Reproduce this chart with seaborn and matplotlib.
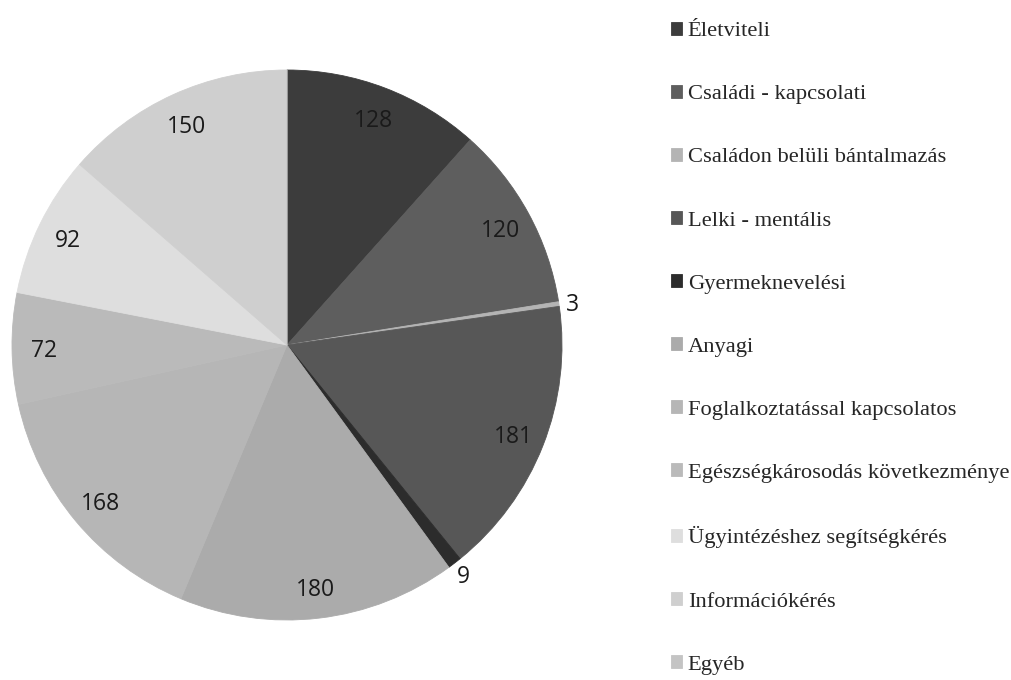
import matplotlib
matplotlib.use("Agg")
import matplotlib.pyplot as plt
from matplotlib.font_manager import FontProperties
import numpy as np
import seaborn as sns

# Problem categories and number of cases
categories = [
    "Életviteli",
    "Családi - kapcsolati",
    "Családon belüli bántalmazás",
    "Lelki - mentális",
    "Gyermeknevelési",
    "Anyagi",
    "Foglalkoztatással kapcsolatos",
    "Egészségkárosodás következménye",
    "Ügyintézéshez segítségkérés",
    "Információkérés",
    "Egyéb",
]
values = [128, 120, 3, 181, 9, 180, 168, 72, 92, 150, 0]

# Greyscale palette, one tone per category
greys = [
    "#3c3c3c", "#5e5e5e", "#b4b4b4", "#575757", "#2c2c2c", "#ababab",
    "#b6b6b6", "#bababa", "#dedede", "#cfcfcf", "#c4c4c4",
]

sns.set_theme(style="white")
plt.rcParams["font.family"] = ["Open Sans", "DejaVu Sans"]

fig = plt.figure(figsize=(10.11, 6.8), dpi=100)
ax = fig.add_axes([12 / 1011, 60 / 680, 550 / 1011, 550 / 680])

wedges, _ = ax.pie(
    values,
    colors=sns.color_palette(greys),
    startangle=90,
    counterclock=False,
    radius=1.0,
    wedgeprops=dict(linewidth=0.6),
)
for w in wedges:
    w.set_edgecolor(w.get_facecolor())

ax.set_xlim(-1, 1)
ax.set_ylim(-1, 1)
ax.set_aspect("equal")
ax.axis("off")

# Value labels: inside the wedge for large slices, just outside for tiny ones
for w, v in zip(wedges, values):
    if v == 0:
        continue
    mid = np.deg2rad((w.theta1 + w.theta2) / 2)
    r = 0.885 if v > 20 else 1.05
    ax.text(r * np.cos(mid), r * np.sin(mid), str(v),
            ha="center", va="center_baseline", fontsize=16.5, color="#1a1a1a")

fig.legend(
    wedges, categories,
    loc="upper left",
    bbox_to_anchor=(671 / 1011, 1 - 22 / 680),
    frameon=False,
    prop=FontProperties(family="Liberation Serif", size=16.2),
    handlelength=0.5, handleheight=0.5, handletextpad=0.25,
    labelspacing=1.94, borderaxespad=0, borderpad=0,
)

fig.savefig("out.png", dpi=100, facecolor="white")
